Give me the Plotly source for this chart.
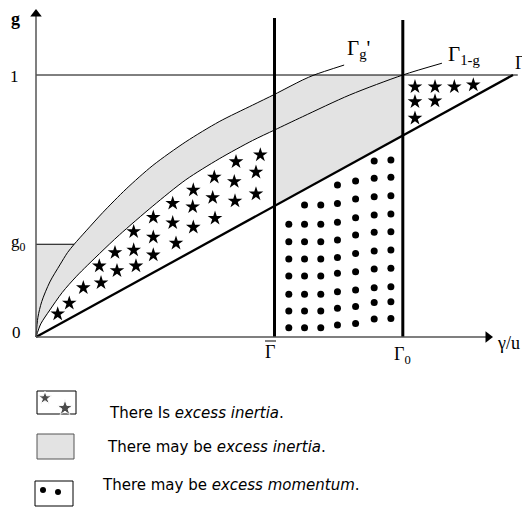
import plotly.graph_objects as go

# ---------------- data ----------------
# x = gamma/u in units of Gamma_2, y = g
GAMMA_BAR = 0.500
GAMMA_0 = 0.769
GAMMA_2 = 1.000
G0 = 0.354

# Gamma_g' curve (upper)
upper_x = [0, 0.004, 0.012, 0.029, 0.050, 0.066, 0.080, 0.105, 0.140, 0.189,
           0.245, 0.314, 0.384, 0.454, 0.500, 0.559, 0.583, 0.646]
upper_g = [0, 0.075, 0.135, 0.210, 0.275, 0.322, 0.354, 0.405, 0.475, 0.565,
           0.655, 0.745, 0.822, 0.885, 0.926, 0.981, 1.000, 1.038]

# Gamma_{1-g} curve (lower)
lower_x = [0, 0.010, 0.029, 0.055, 0.085, 0.133, 0.175, 0.245, 0.314, 0.384,
           0.454, 0.500, 0.559, 0.658, 0.769, 0.851]
lower_g = [0, 0.050, 0.103, 0.170, 0.232, 0.318, 0.390, 0.500, 0.600, 0.680,
           0.750, 0.790, 0.841, 0.924, 1.000, 1.045]

# stars: "There is excess inertia"
star_x = [0.0455, 0.0698, 0.0992, 0.1363, 0.1327, 0.1698, 0.1656, 0.2096, 0.2048,
          0.2048, 0.2459, 0.2459, 0.2459, 0.2935, 0.2866, 0.2866, 0.3298, 0.3285,
          0.3298, 0.3753, 0.3704, 0.3738, 0.4172, 0.4157, 0.4193, 0.4612, 0.4612,
          0.4703,
          0.7945, 0.8365, 0.8770, 0.9168, 0.7945, 0.8365, 0.7945]
star_g = [0.088, 0.129, 0.188, 0.207, 0.271, 0.253, 0.322, 0.271, 0.332,
          0.402, 0.313, 0.381, 0.457, 0.358, 0.436, 0.510, 0.419, 0.497,
          0.561, 0.453, 0.532, 0.610, 0.519, 0.593, 0.669, 0.546, 0.629,
          0.695,
          0.955, 0.955, 0.955, 0.962, 0.898, 0.901, 0.835]

# dots: "There may be excess momentum" (columns)
dot_cols_x = [0.530, 0.563, 0.597, 0.632, 0.670, 0.709, 0.744]
dot_cols_g = [
    [0.430, 0.364, 0.298, 0.233, 0.163, 0.099, 0.035],
    [0.504, 0.430, 0.364, 0.298, 0.233, 0.163, 0.099, 0.035],
    [0.504, 0.430, 0.364, 0.298, 0.233, 0.163, 0.099, 0.035],
    [0.580, 0.510, 0.438, 0.370, 0.303, 0.243, 0.173, 0.110, 0.046],
    [0.595, 0.527, 0.455, 0.389, 0.319, 0.249, 0.179, 0.116, 0.052],
    [0.672, 0.606, 0.535, 0.466, 0.400, 0.328, 0.260, 0.188, 0.132, 0.069],
    [0.676, 0.610, 0.539, 0.469, 0.402, 0.332, 0.262, 0.192, 0.135, 0.071],
]

legend_texts = ["There Is <i>excess inertia</i>.",
                "There may be <i>excess inertia</i>.",
                "There may be <i>excess momentum</i>."]

# ---------------- layout helpers ----------------
# The page body has an 8px margin, so the figure is 8px smaller and the
# axis ranges are chosen so that reference pixel positions line up.
PAGE_OFF = 8
W, H = 530 - PAGE_OFF, 509 - PAGE_OFF
OX, OY, SX, SY = 36, 337, 477, 262   # origin pixel (window coords) and scales


def X(px):
    return (px - OX) / SX


def Y(py):
    return (OY - py) / SY


GRAY = "#e3e3e3"
SERIF = "Liberation Serif"
SANS = "DejaVu Sans"

fig = go.Figure()

# ---- gray fills ----
ax_ = [x for x, g in zip(upper_x, upper_g) if g <= G0]
ag_ = [g for g in upper_g if g <= G0]
fig.add_trace(go.Scatter(x=ax_ + [0], y=ag_ + [G0], fill="toself", fillcolor=GRAY,
                         line=dict(width=0), mode="lines", hoverinfo="skip"))
bx = [x for x in upper_x if x <= GAMMA_BAR]
bg = [g for x, g in zip(upper_x, upper_g) if x <= GAMMA_BAR]
lx = [x for x in lower_x if x <= GAMMA_BAR]
lg = [g for x, g in zip(lower_x, lower_g) if x <= GAMMA_BAR]
fig.add_trace(go.Scatter(x=bx + lx[::-1], y=bg + lg[::-1], fill="toself", fillcolor=GRAY,
                         line=dict(width=0), mode="lines", hoverinfo="skip"))
cx = [x for x, g in zip(upper_x, upper_g) if GAMMA_BAR <= x and g <= 1.0]
cg = [g for x, g in zip(upper_x, upper_g) if GAMMA_BAR <= x and g <= 1.0]
fig.add_trace(go.Scatter(
    x=[GAMMA_BAR] + cx + [GAMMA_0, GAMMA_0],
    y=[GAMMA_BAR / GAMMA_2] + cg + [1.0, GAMMA_0 / GAMMA_2],
    fill="toself", fillcolor=GRAY, line=dict(width=0), mode="lines", hoverinfo="skip"))


# ---- lines ----
def seg(x, y, w, c="black"):
    fig.add_trace(go.Scatter(x=x, y=y, mode="lines", line=dict(color=c, width=w),
                             hoverinfo="skip"))


seg([0, GAMMA_2 + 0.01], [1, 1], 1)                 # g = 1
seg([0, upper_x[upper_g.index(G0)]], [G0, G0], 1)  # g0 level
fig.add_trace(go.Scatter(x=upper_x, y=upper_g, mode="lines",
                         line=dict(color="black", width=1, shape="spline", smoothing=0.8)))
fig.add_trace(go.Scatter(x=lower_x, y=lower_g, mode="lines",
                         line=dict(color="black", width=1, shape="spline", smoothing=0.8)))
seg([0, GAMMA_2], [0, 1], 2.3)                      # Gamma_2 ray
seg([GAMMA_BAR, GAMMA_BAR], [0, Y(18)], 3)
seg([GAMMA_0, GAMMA_0], [0, Y(20)], 3)
# axes
seg([0, 0], [0, Y(16)], 1.5, "#555555")
seg([0, X(487)], [0, 0], 1.5, "#555555")
fig.add_trace(go.Scatter(x=[0], y=[Y(14)], mode="markers",
                         marker=dict(symbol="triangle-up", size=10, color="black")))
fig.add_trace(go.Scatter(x=[X(488)], y=[0], mode="markers",
                         marker=dict(symbol="triangle-right", size=10, color="black")))

# ---- markers ----
fig.add_trace(go.Scatter(x=star_x, y=star_g, mode="markers",
                         marker=dict(symbol="star", size=11, color="black")))
dx, dg = [], []
for x, col in zip(dot_cols_x, dot_cols_g):
    dx += [x] * len(col)
    dg += col
fig.add_trace(go.Scatter(x=dx, y=dg, mode="markers",
                         marker=dict(symbol="circle", size=7, color="black")))

# ---- legend ----
shapes = []
shapes.append(dict(type="rect", x0=X(37), x1=X(76), y0=Y(391), y1=Y(414),
                   line=dict(color="black", width=1), fillcolor="white", layer="below"))
shapes.append(dict(type="rect", x0=X(37), x1=X(74), y0=Y(434), y1=Y(459),
                   line=dict(color="#555555", width=1), fillcolor=GRAY, layer="below"))
shapes.append(dict(type="rect", x0=X(35), x1=X(73), y0=Y(481), y1=Y(506),
                   line=dict(color="black", width=1), fillcolor="white", layer="below"))
shapes.append(dict(type="line", x0=X(265), x1=X(276), y0=Y(341), y1=Y(341),
                   line=dict(color="black", width=1)))
fig.add_trace(go.Scatter(x=[X(45), X(65)], y=[Y(398), Y(408)], mode="markers",
                         marker=dict(symbol="star", size=[10, 12], color="black")))
fig.add_trace(go.Scatter(x=[X(43), X(58)], y=[Y(490), Y(492)], mode="markers",
                         marker=dict(symbol="circle", size=6, color="black")))

ann = []
for t, py, pxl in zip(legend_texts, [413, 447, 485], [107, 105, 100]):
    ann.append(dict(x=X(pxl), y=Y(py), text=t, xanchor="left", yanchor="middle",
                    showarrow=False, font=dict(family=SANS, size=15, color="black")))


def lab(t, px, py, size=17, anchor="center"):
    ann.append(dict(x=X(px), y=Y(py), text=t, xanchor=anchor, yanchor="middle",
                    showarrow=False, font=dict(family=SERIF, size=size, color="black")))


lab("<b>g</b>", 15, 19, 18)
lab("1", 14, 76, 17)
lab("g<sub>0</sub>", 18, 243, 17)
lab("0", 16, 332, 17)
lab("Γ", 270, 352, 18)
lab("Γ<sub>0</sub>", 402, 355, 18)
lab("γ/u", 508, 343, 18)
lab("Γ<sub>g</sub>'", 358, 49, 21)
lab("Γ<sub>1-g</sub>", 464, 55, 21)
lab("Γ<sub>2</sub>", 513, 64, 18, "left")

fig.update_layout(
    width=W, height=H, margin=dict(l=0, r=0, t=0, b=0),
    paper_bgcolor="white", plot_bgcolor="white", showlegend=False,
    xaxis=dict(visible=False, range=[X(PAGE_OFF), X(530)], fixedrange=True),
    yaxis=dict(visible=False, range=[Y(509), Y(PAGE_OFF)], fixedrange=True),
    shapes=shapes, annotations=ann,
)
fig.write_html("out.html")
